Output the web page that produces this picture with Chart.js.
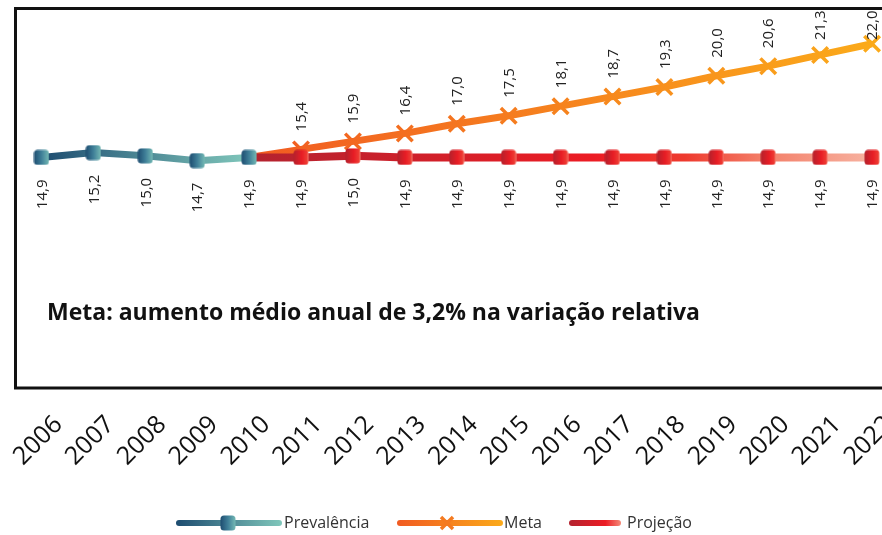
<!DOCTYPE html>
<html lang="pt">
<head>
<meta charset="utf-8">
<title>Prevalência, meta e projeção</title>
<script src="https://cdn.jsdelivr.net/npm/chart.js@4.4.1/dist/chart.umd.min.js"></script>
<style>
  html, body { margin: 0; padding: 0; background: #fff; overflow: hidden; }
  #wrap { width: 910px; height: 535px; }
</style>
</head>
<body>
<div id="wrap"><canvas id="chart" width="910" height="535"></canvas></div>
<script>
// Anos do eixo x
const years = ['2006', '2007', '2008', '2009', '2010', '2011', '2012', '2013', '2014',
               '2015', '2016', '2017', '2018', '2019', '2020', '2021', '2022'];
// Prevalência observada, 2006-2010
const prevalencia = [14.9, 15.2, 15.0, 14.7, 14.9];
// Meta, 2010-2022 (parte do último valor observado)
const meta = [14.9, 15.4, 15.9, 16.4, 17.0, 17.5, 18.1, 18.7, 19.3, 20.0, 20.6, 21.3, 22.0];
// Projeção, 2010-2022
const projecao = [14.9, 14.9, 15.0, 14.9, 14.9, 14.9, 14.9, 14.9, 14.9, 14.9, 14.9, 14.9, 14.9];

const seriesNames = ['Prevalência', 'Meta', 'Projeção'];
const metaNote = 'Meta: aumento médio anual de 3,2% na variação relativa';

const startIdx = years.indexOf('2010');

// colour stops for the gradients
const blueStops = [[0, '#1d4c70'], [1, '#80c7bb']];
const orangeStops = [[0, '#f15b22'], [1, '#fbaa1a']];
const redStops = [[0, '#b3232f'], [0.55, '#ec1c24'], [0.7, '#ee3a2e'], [0.82, '#f37c66'], [1, '#f7b3a1']];

function pad(values, from) {
    const out = years.map(() => null);
    values.forEach((v, i) => { out[from + i] = v; });
    return out;
}

function hGradient(ctx, x0, x1, stops) {
    const g = ctx.createLinearGradient(x0, 0, x1, 0);
    stops.forEach(([o, c]) => g.addColorStop(o, c));
    return g;
}

// gradient across a range of categories, falls back to first colour before layout
function rangeGradient(stops, from, to) {
    return (c) => {
        const chart = c.chart;
        if (!chart.chartArea) return stops[0][1];
        const xs = chart.scales.x;
        return hGradient(chart.ctx, xs.getPixelForValue(from), xs.getPixelForValue(to), stops);
    };
}

// small rounded square markers with a left-to-right shading
function squareMarker(stops, w, h) {
    const c = document.createElement('canvas');
    c.width = w; c.height = h;
    const x = c.getContext('2d');
    const g = x.createLinearGradient(0, 0, w, 0);
    stops.forEach(([o, col]) => g.addColorStop(o, col));
    x.fillStyle = g;
    x.beginPath();
    x.roundRect(0.5, 0.5, w - 1, h - 1, 3.5);
    x.fill();
    return c;
}

const blueMarker = squareMarker([[0, '#1c4a6e'], [0.5, '#3f7f98'], [1, '#78bdb6']], 16, 16);
const redMarker = squareMarker([[0, '#b1222d'], [0.55, '#e81d25'], [0.85, '#ee3a33'], [1, '#f58f7c']], 16, 16);

const fmt = v => v.toFixed(1).replace('.', ',');

// box around the plot area
const frame = {
    id: 'frame',
    beforeDatasetsDraw(chart) {
        const { ctx, chartArea: a } = chart;
        ctx.save();
        ctx.strokeStyle = '#111';
        ctx.lineWidth = 3;
        ctx.strokeRect(a.left, a.top, a.right - a.left, a.bottom - a.top);
        ctx.restore();
    }
};

// vertical value labels
const valueLabels = {
    id: 'valueLabels',
    afterDatasetsDraw(chart) {
        const ctx = chart.ctx;
        const top = chart.chartArea.top;
        ctx.save();
        ctx.font = '15px "Open Sans"';
        ctx.fillStyle = '#222';
        ctx.textBaseline = 'middle';
        chart.data.datasets.forEach((ds, di) => {
            const m = chart.getDatasetMeta(di);
            m.data.forEach((pt, i) => {
                const v = ds.data[i];
                if (v == null || i < ds.labelFrom) return;
                const text = fmt(v);
                const w = ctx.measureText(text).width;
                ctx.save();
                if (ds.labelAbove) {
                    const y = Math.max(pt.y - 18, top + w + 2);
                    ctx.translate(pt.x, y);
                    ctx.rotate(-Math.PI / 2);
                    ctx.textAlign = 'left';
                } else {
                    ctx.translate(pt.x, pt.y + 22);
                    ctx.rotate(-Math.PI / 2);
                    ctx.textAlign = 'right';
                }
                ctx.fillText(text, 0, 1);
                ctx.restore();
            });
        });
        ctx.restore();
    }
};

// note inside the plot and the legend below the axis
const extras = {
    id: 'extras',
    afterDraw(chart) {
        const ctx = chart.ctx;
        ctx.save();
        ctx.fillStyle = '#111';
        ctx.font = 'bold 23px "Open Sans"';
        ctx.textBaseline = 'middle';
        ctx.textAlign = 'left';
        ctx.fillText(metaNote, 47, 313);

        const y = 523;
        ctx.lineCap = 'round';
        ctx.lineWidth = 6;
        // Prevalência
        ctx.strokeStyle = hGradient(ctx, 176, 282, blueStops);
        ctx.beginPath(); ctx.moveTo(179, y); ctx.lineTo(279, y); ctx.stroke();
        ctx.drawImage(blueMarker, 228 - 8, y - 8);
        // Meta
        ctx.strokeStyle = hGradient(ctx, 397, 503, orangeStops);
        ctx.beginPath(); ctx.moveTo(400, y); ctx.lineTo(500, y); ctx.stroke();
        ctx.lineWidth = 3.5;
        ctx.lineCap = 'butt';
        ctx.strokeStyle = '#f47a20';
        ctx.beginPath();
        ctx.moveTo(441, y - 6); ctx.lineTo(453, y + 6);
        ctx.moveTo(453, y - 6); ctx.lineTo(441, y + 6);
        ctx.stroke();
        // Projeção
        ctx.lineCap = 'round';
        ctx.lineWidth = 6;
        ctx.strokeStyle = hGradient(ctx, 569, 621, [[0, '#b3232f'], [0.7, '#ec1c24'], [1, '#f48a78']]);
        ctx.beginPath(); ctx.moveTo(572, y); ctx.lineTo(618, y); ctx.stroke();

        ctx.fillStyle = '#333';
        ctx.font = '16px "Open Sans"';
        ctx.fillText(seriesNames[0], 284, y);
        ctx.fillText(seriesNames[1], 504, y);
        ctx.fillText(seriesNames[2], 627, y);
        ctx.restore();
    }
};

const chart = new Chart(document.getElementById('chart'), {
    type: 'line',
    data: {
        labels: years,
        datasets: [
            {
                label: seriesNames[0],
                data: pad(prevalencia, 0),
                order: 0,
                borderWidth: 7,
                borderColor: rangeGradient(blueStops, 0, startIdx),
                pointStyle: blueMarker,
                pointRadius: 8,
                labelFrom: 0,
                labelAbove: false
            },
            {
                label: seriesNames[1],
                data: pad(meta, startIdx),
                order: 2,
                borderWidth: 7,
                borderColor: rangeGradient(orangeStops, startIdx, years.length - 1),
                pointStyle: 'crossRot',
                pointRadius: c => c.dataIndex === startIdx ? 0 : 11,
                pointBorderWidth: 3.5,
                pointBorderColor: rangeGradient(orangeStops, startIdx, years.length - 1),
                labelFrom: startIdx + 1,
                labelAbove: true
            },
            {
                label: seriesNames[2],
                data: pad(projecao, startIdx),
                order: 1,
                borderWidth: 8,
                borderColor: rangeGradient(redStops, startIdx, years.length - 1),
                pointStyle: redMarker,
                pointRadius: c => c.dataIndex === startIdx ? 0 : 8,
                labelFrom: startIdx + 1,
                labelAbove: false
            }
        ]
    },
    options: {
        responsive: false,
        animation: false,
        layout: { autoPadding: false, padding: { left: 15.5, right: 12, top: 8.5, bottom: 47 } },
        plugins: {
            legend: { display: false },
            tooltip: { enabled: false }
        },
        elements: { line: { tension: 0 } },
        scales: {
            y: {
                display: false,
                min: 0.5,
                max: 24.2
            },
            x: {
                offset: true,
                grid: { display: false },
                border: { display: false },
                afterFit(scale) {
                    scale.height = 100;
                    scale.paddingLeft = 0;
                    scale.paddingRight = 0;
                },
                ticks: {
                    color: '#111',
                    font: { family: 'Open Sans', size: 25 },
                    minRotation: 45,
                    maxRotation: 45,
                    labelOffset: 17,
                    padding: 14,
                    autoSkip: false
                }
            }
        }
    },
    plugins: [frame, valueLabels, extras]
});
</script>
</body>
</html>
